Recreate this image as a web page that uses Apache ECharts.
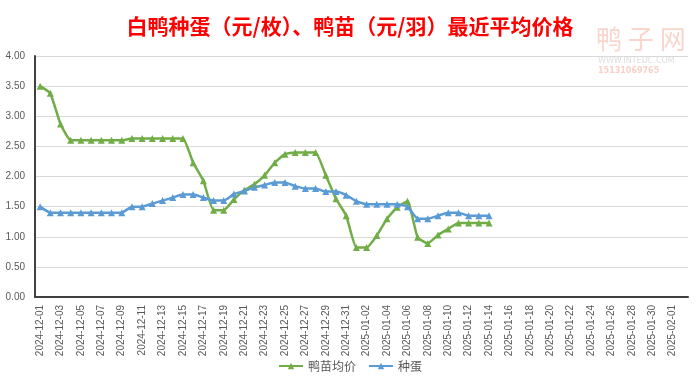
<!DOCTYPE html>
<html>
<head>
<meta charset="utf-8">
<script src="https://cdn.jsdelivr.net/npm/echarts@6/dist/echarts.min.js"></script>
<style>
html,body{margin:0;padding:0;background:#fff;}
#c{width:700px;height:385px;}
</style>
</head>
<body>
<div id="c"></div>
<script>
const categories = [
"2024-12-01","2024-12-02","2024-12-03","2024-12-04","2024-12-05","2024-12-06","2024-12-07","2024-12-08",
"2024-12-09","2024-12-10","2024-12-11","2024-12-12","2024-12-13","2024-12-14","2024-12-15","2024-12-16",
"2024-12-17","2024-12-18","2024-12-19","2024-12-20","2024-12-21","2024-12-22","2024-12-23","2024-12-24",
"2024-12-25","2024-12-26","2024-12-27","2024-12-28","2024-12-29","2024-12-30","2024-12-31","2025-01-01",
"2025-01-02","2025-01-03","2025-01-04","2025-01-05","2025-01-06","2025-01-07","2025-01-08","2025-01-09",
"2025-01-10","2025-01-11","2025-01-12","2025-01-13","2025-01-14","2025-01-15","2025-01-16","2025-01-17",
"2025-01-18","2025-01-19","2025-01-20","2025-01-21","2025-01-22","2025-01-23","2025-01-24","2025-01-25",
"2025-01-26","2025-01-27","2025-01-28","2025-01-29","2025-01-30","2025-01-31","2025-02-01","2025-02-02"
];
const duckling = [3.50,3.38,2.87,2.60,2.60,2.60,2.60,2.60,2.60,2.63,2.63,2.63,2.63,2.63,2.63,2.23,1.93,1.44,1.44,1.62,1.77,1.87,2.02,2.23,2.37,2.40,2.40,2.40,2.02,1.63,1.35,0.82,0.82,1.02,1.30,1.49,1.59,0.99,0.89,1.03,1.13,1.23,1.23,1.23,1.23];
const eggs = [1.50,1.40,1.40,1.40,1.40,1.40,1.40,1.40,1.40,1.50,1.50,1.55,1.60,1.65,1.70,1.70,1.65,1.60,1.60,1.71,1.76,1.82,1.86,1.90,1.90,1.84,1.80,1.80,1.75,1.75,1.69,1.59,1.54,1.54,1.54,1.54,1.50,1.30,1.30,1.35,1.40,1.40,1.35,1.35,1.35];
const seriesNames = ["鸭苗均价","种蛋"];
const yTicks = {min:0, max:4, interval:0.5};
const titleText = "白鸭种蛋（元/枚）、鸭苗（元/羽）最近平均价格";

const chart = echarts.init(document.getElementById('c'), null, {renderer:'canvas'});
const fontFam = '"Noto Sans CJK SC","Microsoft YaHei",sans-serif';
chart.setOption({
  backgroundColor:'#ffffff',
  animation:false,
  title:{
    text:titleText, left:'center', top:11,
    textStyle:{color:'#ff0000', fontSize:21, fontWeight:'bold', fontFamily:fontFam}
  },
  graphic:[
    {type:'text', left:596, top:26, style:{text:'鸭 子 网', fill:'rgba(240,150,130,0.4)', font:'26px "Noto Sans CJK SC"'}},
    {type:'text', left:598, top:57, style:{text:'WWW.INTEDC.COM', fill:'rgba(180,180,180,0.45)', font:'8px "DejaVu Sans"'}},
    {type:'text', left:598, top:67, style:{text:'15131069765', fill:'rgba(240,150,130,0.45)', font:'bold 8px "DejaVu Sans"'}}
  ],
  legend:{
    data:seriesNames, bottom:8, left:'center', itemWidth:24, itemHeight:8, itemGap:12,
    textStyle:{color:'#595959', fontSize:12, fontFamily:fontFam}
  },
  grid:{left:35, right:12, top:56, bottom:88, containLabel:false},
  xAxis:{
    type:'category', data:categories, boundaryGap:true,
    axisLine:{lineStyle:{color:'#404040', width:2}},
    axisTick:{show:false},
    axisLabel:{interval:1, rotate:90, color:'#595959', fontSize:10, margin:8, fontFamily:'"Liberation Sans",Arial,sans-serif'}
  },
  yAxis:{
    type:'value', min:yTicks.min, max:yTicks.max, interval:yTicks.interval,
    axisLine:{show:true, lineStyle:{color:'#404040', width:2}},
    axisTick:{show:false},
    splitLine:{lineStyle:{color:'#d9d9d9'}},
    axisLabel:{color:'#595959', fontSize:10, margin:10, formatter:v=>v.toFixed(2), fontFamily:'"Liberation Sans",Arial,sans-serif'}
  },
  series:[
    {name:seriesNames[0], type:'line', data:duckling, smooth:0.15, showAllSymbol:true, symbol:'triangle', symbolSize:7,
     lineStyle:{color:'#70ad47', width:2.5}, itemStyle:{color:'#70ad47'}},
    {name:seriesNames[1], type:'line', data:eggs, smooth:0.15, showAllSymbol:true, symbol:'triangle', symbolSize:7,
     lineStyle:{color:'#5b9bd5', width:2.5}, itemStyle:{color:'#5b9bd5'}}
  ]
});
</script>
</body>
</html>
